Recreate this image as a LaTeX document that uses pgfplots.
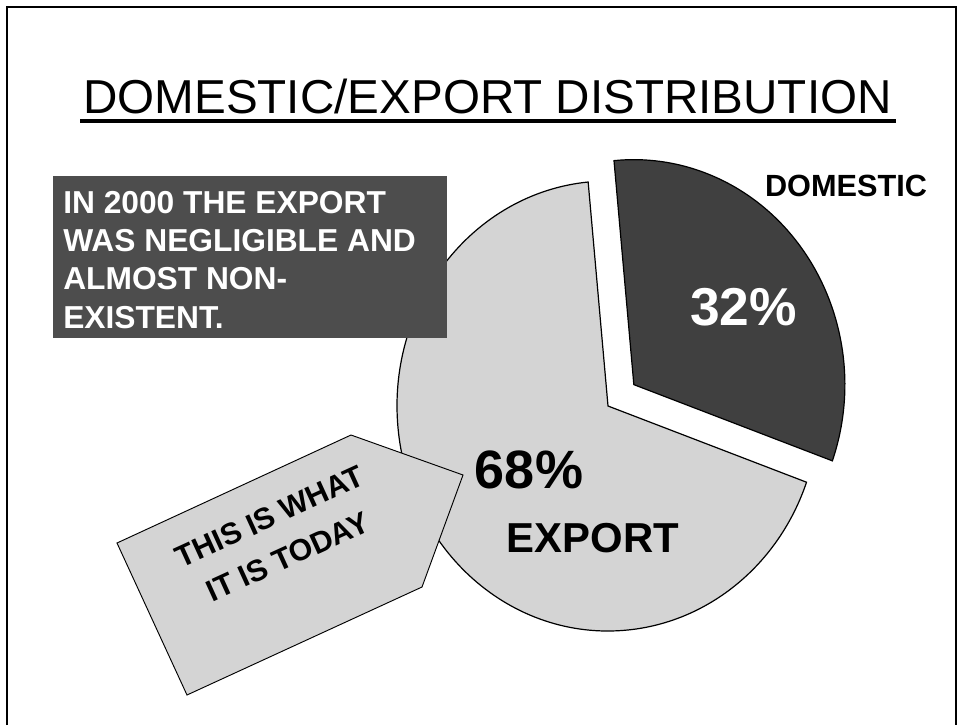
\documentclass[border=0pt]{standalone}
\usepackage{fontspec}
\setmainfont{Liberation Sans}
\usepackage{pgfplots}
\pgfplotsset{compat=1.18}
\usepackage{pgfplotstable}

\definecolor{domfill}{HTML}{404040}
\definecolor{expfill}{HTML}{D4D4D4}
\definecolor{boxfill}{HTML}{4D4D4D}

% shares in percent
\pgfplotstableread{
label    share
DOMESTIC 32
EXPORT   68
}\piedata
\pgfplotstablegetelem{0}{share}\of\piedata \let\domshare\pgfplotsretval
\pgfplotstablegetelem{1}{share}\of\piedata \let\expshare\pgfplotsretval
% slice angles (ellipse parameter, degrees)
\pgfmathsetmacro\aStart{-19.8}
\pgfmathsetmacro\aMid{\aStart+3.6*\domshare}
\pgfmathsetmacro\aEnd{\aMid+3.6*\expshare}
\pgfmathsetmacro\aHalf{(\aStart+\aMid)/2}
% radii in pt (1px = 0.75pt)
\pgfmathsetmacro\rx{211*0.75}
\pgfmathsetmacro\ry{225*0.75}
\pgfmathsetmacro\offx{0.155*\rx*cos(\aHalf)}
\pgfmathsetmacro\offy{0.155*\ry*sin(\aHalf)}

\begin{document}
\begin{tikzpicture}
\begin{axis}[
    at={(0,0)}, anchor=south west,
    width=719.25pt, height=543.75pt, scale only axis,
    xmin=0, xmax=959, ymin=0, ymax=725, y dir=reverse,
    hide axis, clip=false]
    % frame
    \draw[line width=1.5pt] (axis cs:7,725) -- (axis cs:7,7) -- (axis cs:956,7) -- (axis cs:956,725);
    % title
    \node[anchor=base, inner sep=0, font=\fontsize{35.7}{40}\selectfont]
        at (axis cs:487.5,113) {DOMESTIC/EXPORT DISTRIBUTION};
    \draw[line width=2.6pt] (axis cs:80,121) -- (axis cs:896,121);
    % pie
    \coordinate (C) at (axis cs:608,406);
    \draw[fill=expfill, line width=0.9pt] (C) -- ++(\aMid:\rx pt and \ry pt)
        arc[start angle=\aMid, end angle=\aEnd, x radius=\rx pt, y radius=\ry pt] -- cycle;
    \draw[fill=domfill, line width=0.9pt] ([shift={(\offx pt,\offy pt)}]C) -- ++(\aStart:\rx pt and \ry pt)
        arc[start angle=\aStart, end angle=\aMid, x radius=\rx pt, y radius=\ry pt] -- cycle;
    % note box
    \fill[boxfill] (axis cs:53,176) rectangle (axis cs:447,338);
    \begin{scope}[every node/.style={anchor=base west, inner sep=0, text=white,
        font=\fontsize{23.8}{28}\selectfont\bfseries}]
    \node at (axis cs:63,213) {IN 2000 THE EXPORT};
    \node at (axis cs:63,251.5) {WAS NEGLIGIBLE AND};
    \node at (axis cs:63,289.8) {ALMOST NON-};
    \node at (axis cs:63,328) {EXISTENT.};
    \end{scope}
    % arrow callout
    \draw[fill=expfill, line width=0.7pt] (axis cs:117,543) -- (axis cs:351,435)
        -- (axis cs:463,475) -- (axis cs:422,587) -- (axis cs:187,695) -- cycle;
    \begin{scope}[every node/.style={anchor=base, inner sep=0, rotate=24.5,
        font=\fontsize{22.7}{27}\selectfont\bfseries}]
    \node at (axis cs:274,526) {THIS IS WHAT};
    \node at (axis cs:292,566) {IT IS TODAY};
    \end{scope}
    % labels
    \node[anchor=base, inner sep=0, font=\fontsize{23}{27}\selectfont\bfseries]
        at (axis cs:846,196) {DOMESTIC};
    \node[anchor=base, inner sep=0, text=white, font=\fontsize{40}{46}\selectfont\bfseries]
        at (axis cs:743.5,325) {\domshare\%};
    \node[anchor=base, inner sep=0, font=\fontsize{40.5}{46}\selectfont\bfseries]
        at (axis cs:529,488) {\expshare\%};
    \node[anchor=base, inner sep=0, font=\fontsize{31.4}{36}\selectfont\bfseries]
        at (axis cs:593,552) {EXPORT};
\end{axis}
\pgfresetboundingbox
\useasboundingbox (0,0) rectangle (719.25pt,543.75pt);
\end{tikzpicture}
\end{document}
